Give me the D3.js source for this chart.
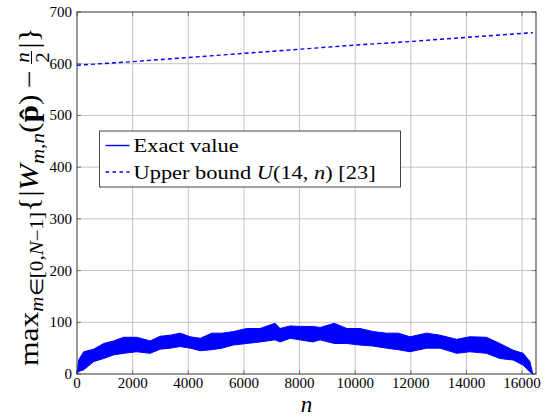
<!DOCTYPE html>
<meta charset="utf-8">
<title>Exact value vs upper bound</title>
<style>
  body { margin: 0; background: #fff; }
  text { fill: #000; }
</style>
<body>
<script src="https://d3js.org/d3.v7.min.js"></script>
<script>

// exact value, drawn as the envelope of the dense oscillation
let nExact = [0, 60, 240, 600, 960, 1320, 1680, 2150, 2630, 2990, 3350, 3710, 4070, 4430, 4850,
  5210, 5620, 6100, 6580, 7120, 7300, 7660, 8020, 8470, 8740, 9250, 9700, 10170, 10650, 11130,
  11550, 11970, 12570, 13050, 13650, 14120, 14720, 15200, 15680, 16040, 16280, 16384];
let exactHigh = [0, 27, 43, 48, 59, 64, 71, 71, 64, 73, 75, 79, 72, 69, 79,
  79, 82, 88, 88, 98, 88, 93, 92, 92, 90, 98, 88, 88, 82, 79,
  79, 72, 79, 75, 67, 72, 71, 59, 46, 40, 24, 0];
let exactLow = [0, 5, 8, 24, 30, 37, 40, 43, 40, 48, 50, 53, 50, 45, 47,
  50, 56, 59, 62, 66, 62, 69, 66, 62, 66, 59, 59, 56, 54, 50,
  47, 43, 50, 50, 40, 43, 40, 30, 27, 17, 4, 0];

// upper bound U(14, n)
let nBound = [0, 2000, 4000, 6000, 8000, 10000, 12000, 14000, 16384];
let boundVals = [597, 604, 612, 620, 628, 636, 643, 651, 660];

let xTicks = [0, 2000, 4000, 6000, 8000, 10000, 12000, 14000, 16000];
let yTicks = [0, 100, 200, 300, 400, 500, 600, 700];

let W = 550, H = 417;
let margin = { top: 12, right: 14, bottom: 43, left: 77 };
let width = W - margin.left - margin.right;
let height = H - margin.top - margin.bottom;
let serif = '"Liberation Serif", serif';

let x = d3.scaleLinear().domain([0, 16500]).range([0, width]);
let y = d3.scaleLinear().domain([0, 700]).range([height, 0]);

let svg = d3.select('body').append('svg')
    .attr('width', W)
    .attr('height', H);

let g = svg.append('g')
    .attr('transform', `translate(${margin.left},${margin.top})`);

// grid
g.append('g').selectAll('line')
  .data(xTicks.filter(d => d > 0))
  .enter().append('line')
    .attr('x1', d => x(d)).attr('x2', d => x(d))
    .attr('y1', 0).attr('y2', height)
    .attr('stroke', '#c4c4c4').attr('stroke-width', 1);
g.append('g').selectAll('line')
  .data(yTicks.filter(d => d > 0 && d < 700))
  .enter().append('line')
    .attr('y1', d => y(d)).attr('y2', d => y(d))
    .attr('x1', 0).attr('x2', width)
    .attr('stroke', '#c4c4c4').attr('stroke-width', 1);

// small ticks on every side
let tk = 4;
xTicks.forEach(d => {
  g.append('line').attr('x1', x(d)).attr('x2', x(d)).attr('y1', height).attr('y2', height - tk).attr('stroke', '#777');
  g.append('line').attr('x1', x(d)).attr('x2', x(d)).attr('y1', 0).attr('y2', tk).attr('stroke', '#777');
});
yTicks.forEach(d => {
  g.append('line').attr('y1', y(d)).attr('y2', y(d)).attr('x1', 0).attr('x2', tk).attr('stroke', '#777');
  g.append('line').attr('y1', y(d)).attr('y2', y(d)).attr('x1', width).attr('x2', width - tk).attr('stroke', '#777');
});

// exact value band
let band = nExact.map((n, i) => ({ n: n, lo: exactLow[i], hi: exactHigh[i] }));
g.append('path')
  .datum(band)
  .attr('fill', '#0000ff')
  .attr('stroke', '#0000ff')
  .attr('stroke-width', 1)
  .attr('d', d3.area().x(d => x(d.n)).y0(d => y(d.lo)).y1(d => y(d.hi)));

// upper bound
g.append('path')
  .datum(nBound.map((n, i) => ({ n: n, v: boundVals[i] })))
  .attr('fill', 'none')
  .attr('stroke', '#0000ff')
  .attr('stroke-width', 1.4)
  .attr('stroke-dasharray', '4,3')
  .attr('d', d3.line().x(d => x(d.n)).y(d => y(d.v)));

// frame
g.append('rect')
  .attr('width', width).attr('height', height)
  .attr('fill', 'none').attr('stroke', '#333').attr('stroke-width', 1);

// tick labels
g.append('g').selectAll('text')
  .data(xTicks)
  .enter().append('text')
    .attr('x', d => x(d))
    .attr('y', height + 13.5)
    .attr('text-anchor', 'middle')
    .style('font-family', serif)
    .style('font-size', '15px')
    .text(d => d);
g.append('g').selectAll('text')
  .data(yTicks)
  .enter().append('text')
    .attr('x', -5)
    .attr('y', d => y(d))
    .attr('dy', '0.33em')
    .attr('text-anchor', 'end')
    .style('font-family', serif)
    .style('font-size', '15px')
    .text(d => d);

// x title
g.append('text')
  .attr('x', width / 2)
  .attr('y', height + 37.5)
  .attr('text-anchor', 'middle')
  .style('font-family', serif)
  .style('font-style', 'italic')
  .style('font-size', '23px')
  .text('n');

// y title, laid out piece by piece
let big = 27, small = 18;
let pieces = [
  { t: 'max', s: big },
  { t: 'm', s: small, i: true, dy: 5 },
  { t: '∈[0,', s: small, dy: 5 },
  { t: 'N', s: small, i: true, dy: 5 },
  { t: '−1]', s: small, dy: 5 },
  { t: '{|', s: big },
  { t: 'W', s: big, i: true },
  { t: 'm,n', s: small, i: true, dy: 6 },
  { t: '(', s: big },
  { t: 'p\u0302', s: big, b: true },
  { t: ')\u2009−\u2009', s: big },
  { frac: ['n', '2'], s: small },
  { t: '|}', s: big }
];
let stretch = 1.17;
let yl = svg.append('g').attr('class', 'ylabel');
let inner = yl.append('g').attr('transform', `scale(${stretch},1)`);
let cursor = 0;
pieces.forEach(p => {
  if (p.frac) {
    let a = inner.append('text').attr('x', cursor).attr('y', -9)
      .style('font-family', serif).style('font-style', 'italic').style('font-size', p.s + 'px').text(p.frac[0]);
    let b = inner.append('text').attr('x', cursor).attr('y', 11)
      .style('font-family', serif).style('font-size', p.s + 'px').text(p.frac[1]);
    let w = Math.max(a.node().getComputedTextLength(), b.node().getComputedTextLength()) + 2;
    a.attr('x', cursor + (w - a.node().getComputedTextLength()) / 2);
    b.attr('x', cursor + (w - b.node().getComputedTextLength()) / 2);
    inner.append('line').attr('x1', cursor).attr('x2', cursor + w).attr('y1', -6.5).attr('y2', -6.5)
      .attr('stroke', '#000').attr('stroke-width', 1);
    cursor += w + 2;
    return;
  }
  let t = inner.append('text')
    .attr('x', cursor)
    .attr('y', p.dy || 0)
    .style('font-family', serif)
    .style('font-size', p.s + 'px')
    .style('font-style', p.i ? 'italic' : 'normal')
    .style('font-weight', p.b ? 'bold' : 'normal')
    .text(p.t);
  cursor += t.node().getComputedTextLength();
});
yl.attr('transform', 'translate(38,366) rotate(-90)');

// legend
let lg = svg.append('g').attr('transform', 'translate(99.5,131)');
lg.append('rect')
  .attr('width', 301).attr('height', 56)
  .attr('fill', '#fff').attr('stroke', '#444').attr('stroke-width', 1);
let legendItems = [
  { label: 'Exact value', dash: null },
  { label: 'Upper bound ', math: true, dash: '3.5,3.5' }
];
legendItems.forEach((d, i) => {
  let cy = 14.5 + i * 26.5;
  lg.append('line')
    .attr('x1', 6).attr('x2', 30).attr('y1', cy).attr('y2', cy)
    .attr('stroke', '#0000ff').attr('stroke-width', 1.4)
    .attr('stroke-dasharray', d.dash);
  let t = lg.append('text')
    .attr('transform', `translate(34,${cy + 6.5}) scale(1.15,1)`)
    .style('font-family', serif)
    .style('font-size', '19.5px')
    .text(d.label);
  if (d.math) {
    t.append('tspan').style('font-style', 'italic').text('U');
    t.append('tspan').text('(14, ');
    t.append('tspan').style('font-style', 'italic').text('n');
    t.append('tspan').text(') [23]');
  }
});

</script>
</body>
